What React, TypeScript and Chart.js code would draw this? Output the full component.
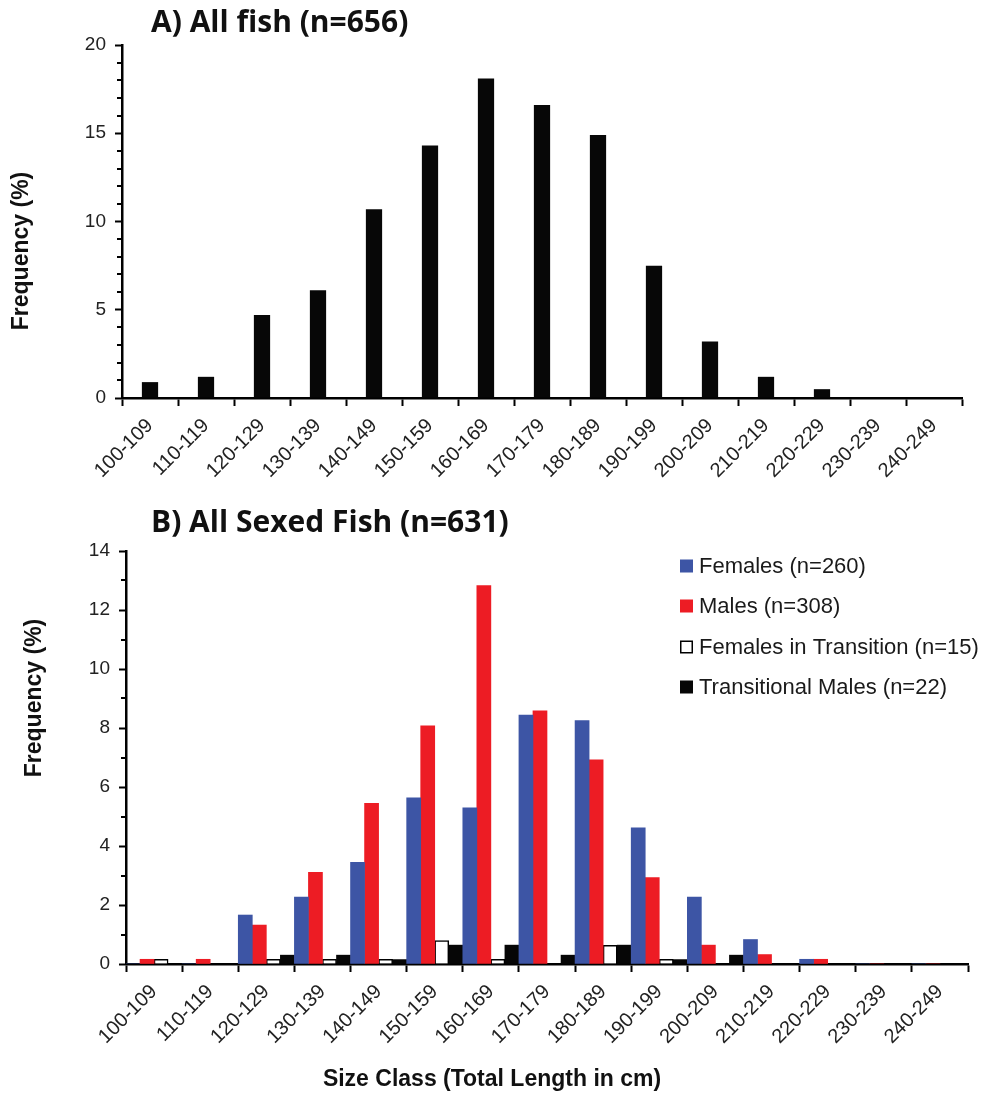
import React, { useEffect, useRef } from "react";
import { Chart, registerables } from "chart.js";

Chart.register(...registerables);

// Size classes (total length, cm)
const sizeClasses = [
  "100-109", "110-119", "120-129", "130-139", "140-149", "150-159", "160-169", "170-179",
  "180-189", "190-199", "200-209", "210-219", "220-229", "230-239", "240-249",
];

// Panel A: all fish, frequency (%)
const allFishPct = [0.9, 1.2, 4.7, 6.1, 10.7, 14.3, 18.1, 16.6, 14.9, 7.5, 3.2, 1.2, 0.5, 0, 0];

// Panel B: sexed fish, frequency (%)
const femalesPct = [0, 0, 1.66, 2.27, 3.45, 5.63, 5.29, 8.44, 8.25, 4.62, 2.27, 0.83, 0.16, 0, 0];
const malesPct = [0.16, 0.16, 1.32, 3.11, 5.45, 8.07, 12.83, 8.58, 6.92, 2.93, 0.64, 0.32, 0.16, 0, 0];
const femalesInTransitionPct = [0.16, 0, 0.16, 0.16, 0.16, 0.79, 0.16, 0, 0.63, 0.16, 0, 0, 0, 0, 0];
const transitionalMalesPct = [0, 0, 0.3, 0.3, 0.15, 0.64, 0.64, 0.3, 0.64, 0.15, 0.3, 0, 0, 0, 0];

const seriesLabels = [
  "Females (n=260)",
  "Males (n=308)",
  "Females in Transition (n=15)",
  "Transitional Males (n=22)",
];

const titleA = "A) All fish (n=656)";
const titleB = "B) All Sexed Fish (n=631)";
const yTitle = "Frequency (%)";
const xTitle = "Size Class (Total Length in cm)";

const ARIAL = "'Liberation Sans', Arial, sans-serif";
const TITLE_FONT = "bold 30px 'Open Sans', Lato, sans-serif";
const AXIS_TITLE_FONT = `bold 23px ${ARIAL}`;

type TextItem = {
  text: string;
  x: number;
  y: number;
  font: string;
  align?: CanvasTextAlign;
  rotate?: number;
};

// Free-standing text (panel titles, axis titles)
function textPlugin(id: string, items: TextItem[]) {
  return {
    id,
    afterDraw(chart: Chart) {
      const ctx = chart.ctx;
      for (const t of items) {
        ctx.save();
        ctx.font = t.font;
        ctx.fillStyle = "#111";
        ctx.textAlign = t.align || "left";
        ctx.textBaseline = "middle";
        ctx.translate(t.x, t.y);
        if (t.rotate) ctx.rotate(t.rotate);
        ctx.fillText(t.text, 0, 0);
        ctx.restore();
      }
    },
  };
}

// Short minor tick marks on the value axis
function minorTickPlugin(id: string, major: number) {
  return {
    id,
    afterDraw(chart: Chart) {
      const scale: any = chart.scales.y;
      const ctx = chart.ctx;
      ctx.save();
      ctx.strokeStyle = "#000";
      ctx.lineWidth = 2;
      for (let v = scale.min; v <= scale.max; v += 1) {
        if (v % major === 0) continue;
        const y = Math.round(scale.getPixelForValue(v));
        ctx.beginPath();
        ctx.moveTo(scale.right - 5, y);
        ctx.lineTo(scale.right, y);
        ctx.stroke();
      }
      ctx.restore();
    },
  };
}

// Legend drawn inside the upper-right part of the plot area
function insideLegendPlugin(id: string) {
  return {
    id,
    afterDraw(chart: Chart) {
      const ctx = chart.ctx;
      const area = chart.chartArea;
      const x0 = area.right - 288;
      const rows = [15, 55, 96, 136];
      chart.data.datasets.forEach((ds: any, i: number) => {
        const y = area.top + rows[i];
        ctx.save();
        ctx.fillStyle = ds.backgroundColor;
        ctx.fillRect(x0, y - 6.5, 13, 13);
        if (ds.borderWidth) {
          ctx.strokeStyle = "#000";
          ctx.lineWidth = 1.5;
          ctx.strokeRect(x0 + 0.75, y - 5.75, 11.5, 11.5);
        }
        ctx.font = `22px ${ARIAL}`;
        ctx.fillStyle = "#1a1a1a";
        ctx.textAlign = "left";
        ctx.textBaseline = "middle";
        ctx.fillText(ds.label, x0 + 19, y + 1);
        ctx.restore();
      });
    },
  };
}

function xScale(height: number) {
  return {
    offset: true,
    grid: {
      offset: true,
      drawOnChartArea: false,
      drawTicks: true,
      tickLength: 8,
      tickWidth: 2,
      tickColor: "#000",
    },
    border: { display: true, color: "#000", width: 2.5 },
    ticks: {
      autoSkip: false,
      minRotation: 45,
      maxRotation: 45,
      padding: 8,
      color: "#222",
      font: { family: ARIAL, size: 20 },
    },
    afterFit: (s: any) => {
      s.height = height;
    },
  };
}

function yScale(max: number, major: number, width: number) {
  return {
    min: 0,
    max,
    grid: {
      drawOnChartArea: false,
      drawTicks: true,
      tickLength: 7,
      tickWidth: 2,
      tickColor: (c: any) => (c.tick && c.tick.value % major === 0 ? "#000" : "rgba(0,0,0,0)"),
    },
    border: { display: true, color: "#000", width: 2.5 },
    ticks: {
      stepSize: 1,
      autoSkip: false,
      padding: 9,
      color: "#222",
      font: { family: ARIAL, size: 19 },
      callback: (v: any) => (Number(v) % major === 0 ? String(v) : ""),
    },
    afterFit: (s: any) => {
      s.width = width;
    },
  };
}

function buildPanelA(canvas: HTMLCanvasElement) {
  return new Chart(canvas, {
    type: "bar",
    data: {
      labels: sizeClasses,
      datasets: [
        {
          label: "All fish",
          data: allFishPct,
          backgroundColor: "#070707",
          barPercentage: 0.29,
          categoryPercentage: 1,
        },
      ],
    },
    options: {
      responsive: false,
      animation: false,
      layout: { padding: { left: 0, right: 43, top: 45, bottom: 0 } },
      plugins: { legend: { display: false }, tooltip: { enabled: false } },
      scales: {
        x: xScale(94) as any,
        y: yScale(20, 5, 122) as any,
      },
    },
    plugins: [
      minorTickPlugin("minorA", 5),
      textPlugin("textA", [
        { text: titleA, x: 151, y: 23, font: TITLE_FONT },
        { text: yTitle, x: 22, y: 251, font: AXIS_TITLE_FONT, align: "center", rotate: -Math.PI / 2 },
      ]),
    ],
  });
}

function buildPanelB(canvas: HTMLCanvasElement) {
  const bar = { barPercentage: 1, categoryPercentage: 1 };
  return new Chart(canvas, {
    type: "bar",
    data: {
      labels: sizeClasses,
      datasets: [
        { label: seriesLabels[0], data: femalesPct, backgroundColor: "#3D55A5", ...bar },
        { label: seriesLabels[1], data: malesPct, backgroundColor: "#ED1C24", ...bar },
        {
          label: seriesLabels[2],
          data: femalesInTransitionPct,
          backgroundColor: "#FFFFFF",
          borderColor: "#000000",
          borderWidth: 1.5,
          ...bar,
        },
        { label: seriesLabels[3], data: transitionalMalesPct, backgroundColor: "#060606", ...bar },
      ],
    },
    options: {
      responsive: false,
      animation: false,
      layout: { padding: { left: 0, right: 37, top: 59, bottom: 0 } },
      plugins: { legend: { display: false }, tooltip: { enabled: false } },
      scales: {
        x: xScale(131) as any,
        y: yScale(14, 2, 126) as any,
      },
    },
    plugins: [
      minorTickPlugin("minorB", 2),
      insideLegendPlugin("legendB"),
      textPlugin("textB", [
        { text: titleB, x: 151, y: 31, font: TITLE_FONT },
        { text: yTitle, x: 35, y: 206, font: AXIS_TITLE_FONT, align: "center", rotate: -Math.PI / 2 },
        { text: xTitle, x: 492, y: 588, font: AXIS_TITLE_FONT, align: "center" },
      ]),
    ],
  });
}

function ChartCanvas({
  width,
  height,
  build,
}: {
  width: number;
  height: number;
  build: (c: HTMLCanvasElement) => Chart;
}) {
  const ref = useRef<HTMLCanvasElement>(null);
  useEffect(() => {
    const chart = build(ref.current as HTMLCanvasElement);
    return () => chart.destroy();
  }, []);
  return (
    <canvas
      ref={ref}
      width={width}
      height={height}
      style={{ display: "block", width: `${width}px`, height: `${height}px` }}
    />
  );
}

export default function App() {
  return (
    <div style={{ position: "absolute", left: 0, top: 0, width: 1005, height: 1095, background: "#fff" }}>
      <ChartCanvas width={1005} height={492} build={buildPanelA} />
      <ChartCanvas width={1005} height={603} build={buildPanelB} />
    </div>
  );
}
